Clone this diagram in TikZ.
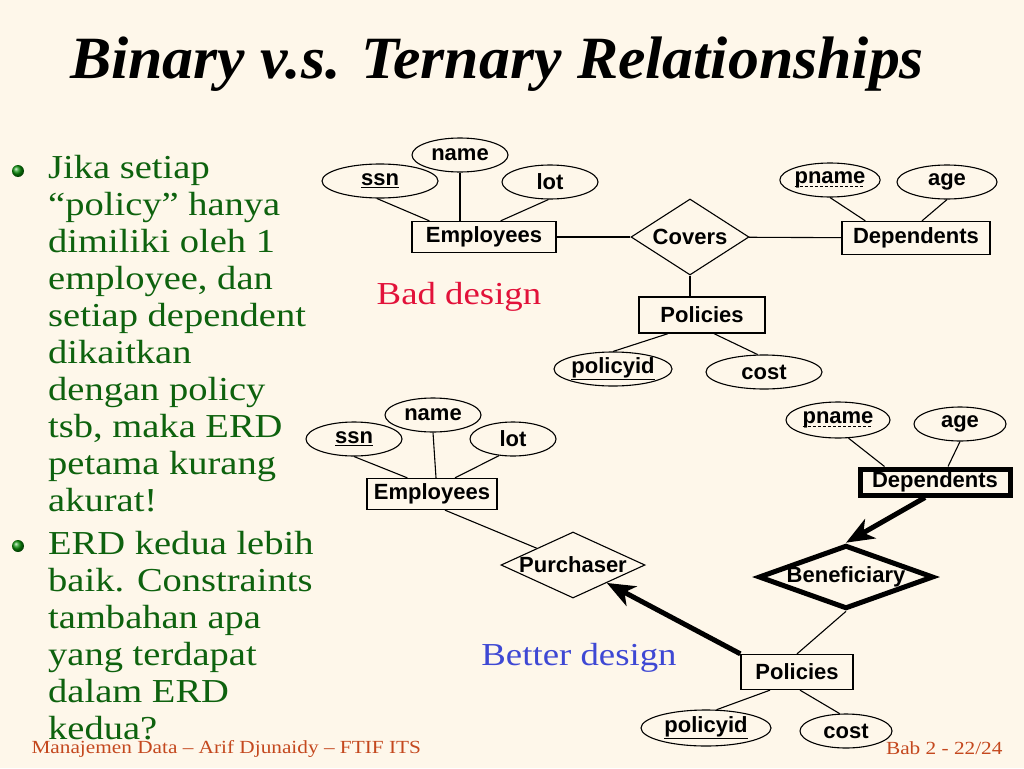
\documentclass[tikz,border=0pt]{standalone}
\usepackage{fontspec}
\setmainfont{Liberation Serif}
\newfontfamily\palfont[FakeStretch=1.15]{Liberation Serif}
\newfontfamily\headfont[FakeStretch=1.03]{Liberation Serif}
\newfontfamily\erfont{Liberation Sans}
\usetikzlibrary{shapes.geometric,arrows.meta}
\definecolor{bg}{RGB}{254,247,234}
\definecolor{txtgreen}{RGB}{14,98,14}
\definecolor{badred}{RGB}{226,18,58}
\definecolor{betterblue}{RGB}{62,72,212}
\definecolor{footbrown}{RGB}{196,72,30}
\newsavebox\pkbox
\newcommand\dashul[1]{\sbox\pkbox{#1}%
  \rlap{\raisebox{-3.5pt}{\hbox to\wd\pkbox{\xleaders\hbox to 5pt{%
    \vrule width 3pt height 1.3pt depth 0pt\hfil}\hfill}}}\usebox\pkbox}

\begin{document}
\begin{tikzpicture}[x=1pt,y=-1pt,
    lbl/.style={font=\erfont\bfseries\fontsize{22}{26}\selectfont},
    e/.style={lbl, draw, line width=1.3pt, inner sep=0pt},
    we/.style={e, line width=5pt},
    a/.style={lbl, ellipse, draw, line width=1.1pt, inner sep=0pt,
              minimum height=34},
    r/.style={lbl, diamond, draw, line width=1.1pt, inner sep=0pt},
    wr/.style={r, line width=5pt},
    l/.style={line width=1.1pt},
    hl/.style={line width=5pt, -{Stealth[length=28pt,width=22pt,inset=8pt]}},
    body/.style={text=txtgreen, align=left, inner sep=0pt,
                 font=\palfont\fontsize{33.5}{37}\selectfont}]
    \useasboundingbox [fill=bg] (0,0) rectangle (1024,768);
    % title and text
    \node[font=\headfont\bfseries\itshape\fontsize{60}{64}\selectfont, anchor=base]
        (title) at (497,78) {Binary v.s. Ternary Relationships};
    \shade[ball color=txtgreen!70!green] (18,171) circle (6);
    \shade[ball color=txtgreen!70!green] (18,546) circle (6);
    \node[body, anchor=north west] (b1) at (48,155)
        {Jika setiap\\ “policy” hanya\\ dimiliki oleh 1\\ employee, dan\\
         setiap dependent\\ dikaitkan\\ dengan policy\\ tsb, maka ERD\\
         petama kurang\\ akurat!};
    \node[body, anchor=north west] (b2) at (48,531)
        {ERD kedua lebih\\ baik. Constraints\\ tambahan apa\\ yang terdapat\\
         dalam ERD\\ kedua?};
    \node[text=badred, font=\palfont\fontsize{32}{36}\selectfont] (bad) at (459,297) {Bad design};
    \node[text=betterblue, font=\palfont\fontsize{32}{36}\selectfont] (better) at (579,658) {Better design};
    \node[text=footbrown, font=\palfont\fontsize{18.5}{22}\selectfont, anchor=base west]
        (foot) at (28,753) {Manajemen Data – Arif Djunaidy – FTIF ITS};
    \node[text=footbrown, font=\palfont\fontsize{18.5}{22}\selectfont, anchor=base east]
        (page) at (1006,754) {Bab 2 - 22/24};

    % bad design
    \node[a, minimum width=96] (name1) at (460,155) {name};
    \node[a, minimum width=116] (ssn1) at (380,181) {\underline{ssn}};
    \node[a, minimum width=96] (lot1) at (550,182) {lot};
    \node[e, minimum width=144, minimum height=31] (emp1) at (484,237) {Employees};
    \node[r, aspect=1.55, minimum width=118, minimum height=76] (cov) at (690,237) {Covers};
    \node[e, minimum width=148, minimum height=33] (dep1) at (916,238) {Dependents};
    \node[a, minimum width=96] (pn1) at (830,180) {\dashul{pname}};
    \node[a, minimum width=100] (age1) at (947,182) {age};
    \node[e, minimum width=126, minimum height=36] (pol1) at (702,315) {Policies};
    \node[a, minimum width=118] (pid1) at (613,369) {\underline{policyid}};
    \node[a, minimum width=116] (cost1) at (764,372) {cost};
    \draw[l] (ssn1.260) -- ([xshift=18]emp1.north west);
    \draw[l] (name1) -- (name1 |- emp1.north);
    \draw[l] (lot1.265) -- ([xshift=-56]emp1.north east);
    \draw[l] (emp1) -- (cov);
    \draw[l] (cov) -- (dep1);
    \draw[l] (pn1.south) -- ([xshift=24]dep1.north west);
    \draw[l] (age1.south) -- ([xshift=6]dep1.north);
    \draw[l] (cov.south) -- (cov.south |- pol1.north);
    \draw[l] ([xshift=-34]pol1.south) -- (pid1.north);
    \draw[l] ([xshift=12]pol1.south) -- (cost1.110);

    % better design
    \node[a, minimum width=96] (name2) at (433,415) {name};
    \node[a, minimum width=96] (ssn2) at (354,439) {\underline{ssn}};
    \node[a, minimum width=86] (lot2) at (513,439) {lot};
    \node[e, minimum width=130, minimum height=31] (emp2) at (432,494) {Employees};
    \node[r, aspect=2.2, minimum width=144, minimum height=66] (pur) at (573,565) {Purchaser};
    \node[we, minimum width=150, minimum height=26] (dep2) at (935,482) {Dependents};
    \node[a, minimum width=104, minimum height=36] (pn2) at (838,420) {\dashul{pname}};
    \node[a, minimum width=92] (age2) at (960,424) {age};
    \node[wr, aspect=2.75, minimum width=172, minimum height=60] (ben) at (846,577) {Beneficiary};
    \node[e, minimum width=112, minimum height=35] (pol2) at (797,672) {Policies};
    \node[a, minimum width=130, minimum height=36] (pid2) at (706,728) {\underline{policyid}};
    \node[a, minimum width=92] (cost2) at (846,731) {cost};
    \draw[l] (ssn2.south) -- ([xshift=41]emp2.north west);
    \draw[l] (name2.south) -- ([xshift=4]emp2.north);
    \draw[l] (lot2.230) -- ([xshift=23]emp2.north);
    \draw[l] ([xshift=13]emp2.south) -- (pur.north west);
    \draw[hl] (pol2.north west) -- (pur);
    \draw[hl] ([xshift=-10]dep2.south) -- (ben.north);
    \draw[l] (ben.south) -- (pol2.north);
    \draw[l] (pn2.-60) -- ([xshift=27]dep2.north west);
    \draw[l] (age2.south) -- ([xshift=13]dep2.north);
    \draw[l] ([xshift=-27]pol2.south) -- (pid2.60);
    \draw[l] ([xshift=3]pol2.south) -- (cost2.110);
\end{tikzpicture}
\end{document}
